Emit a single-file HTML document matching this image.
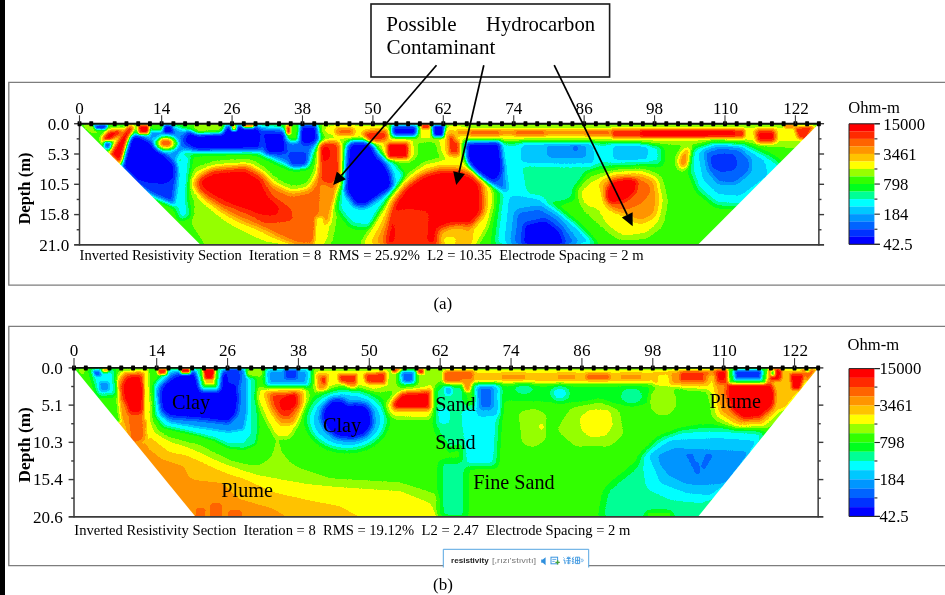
<!DOCTYPE html>
<html><head><meta charset="utf-8"><title>Inverted Resistivity Sections</title>
<style>html,body{margin:0;padding:0;background:#fff}body{width:945px;height:595px;position:relative;overflow:hidden;font-family:"Liberation Serif",serif}</style>
</head><body>
<svg width="945" height="595" viewBox="0 0 945 595" style="position:absolute;left:0;top:0;font-family:'Liberation Serif',serif">
<defs><filter id="b0_9" filterUnits="userSpaceOnUse" x="40" y="100" width="820" height="440" color-interpolation-filters="sRGB"><feGaussianBlur stdDeviation="0.9"/></filter>
<filter id="b1" filterUnits="userSpaceOnUse" x="40" y="100" width="820" height="440" color-interpolation-filters="sRGB"><feGaussianBlur stdDeviation="1"/></filter>
<filter id="b1_1" filterUnits="userSpaceOnUse" x="40" y="100" width="820" height="440" color-interpolation-filters="sRGB"><feGaussianBlur stdDeviation="1.1"/></filter>
<filter id="b1_2" filterUnits="userSpaceOnUse" x="40" y="100" width="820" height="440" color-interpolation-filters="sRGB"><feGaussianBlur stdDeviation="1.2"/></filter>
<filter id="b1_3" filterUnits="userSpaceOnUse" x="40" y="100" width="820" height="440" color-interpolation-filters="sRGB"><feGaussianBlur stdDeviation="1.3"/></filter>
<filter id="b1_4" filterUnits="userSpaceOnUse" x="40" y="100" width="820" height="440" color-interpolation-filters="sRGB"><feGaussianBlur stdDeviation="1.4"/></filter>
<filter id="b1_5" filterUnits="userSpaceOnUse" x="40" y="100" width="820" height="440" color-interpolation-filters="sRGB"><feGaussianBlur stdDeviation="1.5"/></filter>
<filter id="b1_6" filterUnits="userSpaceOnUse" x="40" y="100" width="820" height="440" color-interpolation-filters="sRGB"><feGaussianBlur stdDeviation="1.6"/></filter>
<filter id="b1_8" filterUnits="userSpaceOnUse" x="40" y="100" width="820" height="440" color-interpolation-filters="sRGB"><feGaussianBlur stdDeviation="1.8"/></filter>
<filter id="b2" filterUnits="userSpaceOnUse" x="40" y="100" width="820" height="440" color-interpolation-filters="sRGB"><feGaussianBlur stdDeviation="2"/></filter>
<filter id="b2_2" filterUnits="userSpaceOnUse" x="40" y="100" width="820" height="440" color-interpolation-filters="sRGB"><feGaussianBlur stdDeviation="2.2"/></filter>
<filter id="b2_3" filterUnits="userSpaceOnUse" x="40" y="100" width="820" height="440" color-interpolation-filters="sRGB"><feGaussianBlur stdDeviation="2.3"/></filter>
<filter id="b2_5" filterUnits="userSpaceOnUse" x="40" y="100" width="820" height="440" color-interpolation-filters="sRGB"><feGaussianBlur stdDeviation="2.5"/></filter>
<filter id="b2_6" filterUnits="userSpaceOnUse" x="40" y="100" width="820" height="440" color-interpolation-filters="sRGB"><feGaussianBlur stdDeviation="2.6"/></filter>
<filter id="b2_8" filterUnits="userSpaceOnUse" x="40" y="100" width="820" height="440" color-interpolation-filters="sRGB"><feGaussianBlur stdDeviation="2.8"/></filter>
<filter id="b3" filterUnits="userSpaceOnUse" x="40" y="100" width="820" height="440" color-interpolation-filters="sRGB"><feGaussianBlur stdDeviation="3"/></filter>
<filter id="b3_2" filterUnits="userSpaceOnUse" x="40" y="100" width="820" height="440" color-interpolation-filters="sRGB"><feGaussianBlur stdDeviation="3.2"/></filter>
<filter id="b3_5" filterUnits="userSpaceOnUse" x="40" y="100" width="820" height="440" color-interpolation-filters="sRGB"><feGaussianBlur stdDeviation="3.5"/></filter>
<filter id="b4" filterUnits="userSpaceOnUse" x="40" y="100" width="820" height="440" color-interpolation-filters="sRGB"><feGaussianBlur stdDeviation="4"/></filter>
<filter id="cm" filterUnits="userSpaceOnUse" x="0" y="0" width="945" height="595" color-interpolation-filters="sRGB">
<feComponentTransfer><feFuncR type="discrete" tableValues="0.0000 0.0000 0.0000 0.0000 0.0000 0.0000 0.0000 0.0000 0.1961 0.5882 1.0000 1.0000 1.0000 1.0000 1.0000 1.0000"/><feFuncG type="discrete" tableValues="0.0000 0.1961 0.3922 0.5882 0.7843 1.0000 1.0000 1.0000 1.0000 1.0000 1.0000 0.7647 0.5843 0.3922 0.1647 0.0000"/><feFuncB type="discrete" tableValues="1.0000 1.0000 1.0000 1.0000 1.0000 1.0000 0.5882 0.1176 0.0000 0.0000 0.0000 0.0000 0.0000 0.0000 0.0000 0.0000"/></feComponentTransfer>
<feGaussianBlur stdDeviation="0.6"/></filter>

<clipPath id="ct"><polygon points="79.5,123.7 818.868,123.7 697.668,244.9 200.7,244.9"/></clipPath>
<clipPath id="cb"><polygon points="74,367.9 818.156,367.9 698,516.8 195.5,516.8"/></clipPath>
<filter id="soft" filterUnits="userSpaceOnUse" x="0" y="0" width="945" height="595" color-interpolation-filters="sRGB"><feGaussianBlur stdDeviation="0.38"/></filter>
</defs>
<rect x="0" y="0" width="945" height="595" fill="#fff"/>
<rect x="0" y="0" width="5" height="595" fill="#000"/>
<path d="M946,82.3 H8.8 V285.2 H946" fill="none" stroke="#7d7d7d" stroke-width="1.3"/>
<path d="M946,326.3 H8.8 V565.6 H946" fill="none" stroke="#7d7d7d" stroke-width="1.3"/>
<g clip-path="url(#ct)"><g filter="url(#cm)"><rect x="60" y="110" width="780" height="150" fill="#878787"/>
<polygon points="196,200 212,215 228,229 250,240 270,250 208,250 190,222" fill="#979797" filter="url(#b3)"/>
<polygon points="185,183 195,170 215,163 250,161 262,168 276,181 292,189 308,186 316,172 319,140 341,138 343,176 337,205 329,246 268,246 250,238 228,227 212,215 196,200" fill="#a7a7a7" filter="url(#b4)"/>
<polygon points="138,128 160,127 178,127 183,150 177,162 160,147 150,138" fill="#383838" filter="url(#b2_5)"/>
<polygon points="121,165 126,136 140,134 150,138 160,147 170,155 178,163 182,175 182,190 176,206 150,195 136,185" fill="#181818" filter="url(#b2_5)"/>
<polygon points="176,128 196,135 222,134 227,126 256,126 284,128 296,142 299,127 317,126 321,140 313,150 309,164 296,168 282,163 268,156 256,151 225,151 195,152 178,151" fill="#282828" filter="url(#b3)"/>
<polygon points="180,152 191,155 189,172 187,200 190,216 180,220 174,203" fill="#585858" filter="url(#b2_5)"/>
<polygon points="194,183 202,173 216,168 248,166 262,174 274,186 292,194 310,190 320,172 322,144 338,142 339,176 333,200 323,222 315,246 298,246 280,238 260,228 240,220 222,210 204,197" fill="#d7d7d7" filter="url(#b3)"/>
<polygon points="321,178 332,178 329,222 318,224" fill="#c7c7c7" filter="url(#b2_5)"/>
<polygon points="126,139 137,136 146,141 157,149 166,158 173,165 174,178 165,184 150,183 138,180 123,167" fill="#080808" filter="url(#b2_3)"/>
<polygon points="186,131 196,133 222,133 226,126 256,126 262,132 260,149 225,150 196,150 184,143" fill="#080808" filter="url(#b2_3)"/>
<polygon points="262,132 285,132 286,153 266,154" fill="#080808" filter="url(#b2)"/>
<polygon points="297,125 317,125 317,141 306,146 299,140" fill="#080808" filter="url(#b2)"/>
<polygon points="288,152 307,152 307,166 290,166" fill="#181818" filter="url(#b2)"/>
<polygon points="163,125 172,125 174,134 163,133" fill="#080808" filter="url(#b1_5)"/>
<ellipse cx="166.5" cy="143.5" rx="11.5" ry="7.5" fill="#979797" filter="url(#b2)"/>
<ellipse cx="166" cy="143" rx="6.5" ry="4.3" transform="rotate(5 166 143)" fill="#d7d7d7" filter="url(#b1_5)"/>
<polygon points="283,124 300,124 298,141 288,141" fill="#878787" filter="url(#b2)"/>
<polygon points="286,125.5 290.5,125.5 290.5,134.5 286.5,134" fill="#e7e7e7" filter="url(#b1_2)"/>
<polygon points="192,124 223,124 222,132 196,133" fill="#979797" filter="url(#b2)"/>
<polygon points="231.5,124.5 236.5,124.5 236.5,130.5 231.5,130.5" fill="#b7b7b7" filter="url(#b1_2)"/>
<polygon points="243,124 254,124 254,127.5 243,127.5" fill="#d7d7d7" filter="url(#b1)"/>
<polygon points="150,124 163,124 162,131 152,131" fill="#878787" filter="url(#b1_5)"/>
<polygon points="197,182 212,171 245,168 262,177 272,195 292,209 293,221 265,224 245,213 228,207 210,198 199,190" fill="#e7e7e7" filter="url(#b2_5)"/>
<polygon points="200.3,180.2 213.9,173.4 244.3,170.8 259.6,180.2 268,197 279.9,207.3 276.5,215.7 261.3,214.9 247.7,209.8 230.8,203.9 213.9,195.4 203.7,188.6" fill="#f7f7f7" filter="url(#b2)"/>
<polygon points="320,143 338.6,142 340,172 332,186 320,182" fill="#e7e7e7" filter="url(#b2_5)"/>
<polygon points="321,147 330,146 330,160 322,162" fill="#f7f7f7" filter="url(#b2)"/>
<polygon points="315.5,217 324,217 324,246 314.5,246" fill="#a7a7a7" filter="url(#b1_8)"/>
<polygon points="80,124 96,124 100,134 90,133" fill="#979797" filter="url(#b2)"/>
<polygon points="93,124.5 108,124.5 106,129.5 96,129.5" fill="#181818" filter="url(#b1_3)"/>
<polygon points="101,139.5 108,130.5 121.5,129 123,133.5 112,140 105,144" fill="#f7f7f7" filter="url(#b2_2)"/>
<polygon points="104,141 112,142 110,150 104,148" fill="#282828" filter="url(#b1_5)"/>
<polygon points="109,155 116,142.8 123,131.8 129.5,125 134.5,126 129,138.7 125,151 121,165" fill="#f7f7f7" filter="url(#b2_2)"/>
<polygon points="137.7,124.5 149.4,124.5 149.4,134 138.5,134" fill="#f7f7f7" filter="url(#b1_4)"/>
<polygon points="322,124 462,124 462,142 445,160 430,146 412,160 386,160 380,146 340,139 322,134" fill="#a7a7a7" filter="url(#b3)"/>
<polygon points="414,141 438,140 438,165 420,166" fill="#878787" filter="url(#b3)"/>
<polygon points="341,190 394,190 387,212 372,228 352,226 337,208" fill="#585858" filter="url(#b3_2)"/>
<polygon points="374,150 392,160 404,174 402,190 394,200 384,200" fill="#585858" filter="url(#b2_2)"/>
<polygon points="346.5,146 351,141 370,140.5 374,146 378.5,156 385.5,162.5 391.5,173 393.5,186 389,191 378,198.5 365,207 355,206 344,191 345,165" fill="#080808" filter="url(#b2_6)"/>
<polygon points="335,128 354,128 354,135 336,135" fill="#d7d7d7" filter="url(#b2)"/>
<polygon points="362,132 378,129.5 388,131 387,141 368,142" fill="#e7e7e7" filter="url(#b2)"/>
<polygon points="391,125 418,125 417,136.6 392,136.6" fill="#080808" filter="url(#b2)"/>
<polygon points="421.6,124.5 430,124.5 430,128.5 421.6,128.5" fill="#f7f7f7" filter="url(#b1_2)"/>
<polygon points="431.7,125 445.3,125 444,137 433,137" fill="#080808" filter="url(#b1_8)"/>
<polygon points="386,142.5 409,142.5 409,159 387,159" fill="#d7d7d7" filter="url(#b2_5)"/>
<polygon points="388,144 407.5,144 407.5,157.5 388.5,157.5" fill="#f7f7f7" filter="url(#b1_8)"/>
<polygon points="446,132 460,130 461,160 447,158" fill="#c7c7c7" filter="url(#b2_5)"/>
<polygon points="448.7,136.6 458.8,135 458.8,154 449.5,153" fill="#e7e7e7" filter="url(#b1_8)"/>
<polygon points="360,246 378,214 392,193 407,176 424,163 445,158 470,159 492,178 494,205 488,226 477,246" fill="#a7a7a7" filter="url(#b2_5)"/>
<polygon points="371,246 385,220 396,200 410,186 424,174 438,168.5 456,168 470,172 484,186 486,200 482,214 472,226 470,246" fill="#c7c7c7" filter="url(#b3_5)"/>
<polygon points="384,246 392.8,204 404.7,187 421.6,175 438.5,170 456,170 470,174 481.5,183 483,212 472,225 452,228 440,246" fill="#f7f7f7" filter="url(#b3)"/>
<polygon points="394.5,211 410,209 428.4,212 427,246 395,246" fill="#e7e7e7" filter="url(#b2_5)"/>
<polygon points="438.5,230 452,226 467.3,228 466,246 438,246" fill="#b7b7b7" filter="url(#b3)"/>
<polygon points="444,237 456,237 455,246 444,246" fill="#a7a7a7" filter="url(#b2)"/>
<polygon points="500,142 660,142 662,164 600,166 580,172 565,200 540,200 524,246 494,246 500,200 503,170" fill="#585858" filter="url(#b3_5)"/>
<polygon points="522,164 585,166 578,198 545,200 528,200" fill="#686868" filter="url(#b3_5)"/>
<polygon points="640,136 824,136 800,149 760,146 700,146 640,144" fill="#979797" filter="url(#b2_5)"/>
<polygon points="455,126.5 822,126.5 822,141 455,141" fill="#a7a7a7" filter="url(#b2_2)"/>
<polygon points="457,129.8 745,129.8 745,135.6 457,135.6" fill="#c7c7c7" filter="url(#b1_6)"/>
<polygon points="470,130.5 500,130.5 500,134.8 470,134.8" fill="#d7d7d7" filter="url(#b1_5)"/>
<polygon points="515,130.5 545,130.5 545,134.8 515,134.8" fill="#d7d7d7" filter="url(#b1_5)"/>
<polygon points="586,130.5 610,130.5 610,135 586,135" fill="#d7d7d7" filter="url(#b1_5)"/>
<polygon points="612,129.5 744,129.5 744,137.8 612,137.8" fill="#e7e7e7" filter="url(#b1_8)"/>
<polygon points="640,131 735,131 735,136 640,136" fill="#f7f7f7" filter="url(#b1_6)"/>
<polygon points="755.6,130 775.6,130 775.6,142 757,142.4" fill="#f7f7f7" filter="url(#b2)"/>
<polygon points="784,124.5 794,124.5 794,128 784,128" fill="#d7d7d7" filter="url(#b1_2)"/>
<polygon points="794,127 814,126 806,140 798,138" fill="#e7e7e7" filter="url(#b1_8)"/>
<polygon points="465,142 501,142 505,168 507,192 496,188 483,179 468,164" fill="#282828" filter="url(#b2_5)"/>
<polygon points="466.5,143 499.5,142.5 502.5,169 499,178 493,182 477.5,172 467.5,161" fill="#080808" filter="url(#b2)"/>
<polygon points="521,143.4 593.6,143.4 594,163.7 560,164.5 521,163" fill="#484848" filter="url(#b2_5)"/>
<polygon points="546,145 586.8,145 586,157.8 548,157.8" fill="#383838" filter="url(#b2)"/>
<polygon points="572,146 579,146 578,151 573,151" fill="#282828" filter="url(#b1_2)"/>
<polygon points="612,145 649,145 647,160 613,160" fill="#484848" filter="url(#b2_5)"/>
<polygon points="509,195.4 537.7,197 554.7,207.2 578.4,225.9 597,246 504,246" fill="#484848" filter="url(#b3)"/>
<polygon points="516,211 540,207 560,220 580,246 512,246" fill="#282828" filter="url(#b3)"/>
<polygon points="524,224 545,219 560,230 566,246 522,246" fill="#080808" filter="url(#b2_5)"/>
<polygon points="574,190 590,176 615,170 645,168 662,176 668,200 664,226 648,239 618,240 600,226 584,212" fill="#979797" filter="url(#b3_5)"/>
<polygon points="580,192 592,181 612,174 640,172 657,178 663,200 659,222 645,234 622,236 606,224 598,209 584,205" fill="#a7a7a7" filter="url(#b3)"/>
<polygon points="600,182 615,175 640,174 655,180 658,200 655,216 640,223 622,214 606,206" fill="#c7c7c7" filter="url(#b3)"/>
<ellipse cx="630" cy="195" rx="22" ry="13" transform="rotate(-25 630 195)" fill="#d7d7d7" filter="url(#b2_5)"/>
<polygon points="605.5,190 612,180 628,177.5 638,180 636,192 626,201 612,204 606,200" fill="#f7f7f7" filter="url(#b2)"/>
<ellipse cx="685.5" cy="158" rx="8.8" ry="13.2" transform="rotate(25 685.5 158)" fill="#a7a7a7" filter="url(#b2)"/>
<ellipse cx="686" cy="158" rx="5.2" ry="9.4" transform="rotate(25 686 158)" fill="#c7c7c7" filter="url(#b1_5)"/>
<polygon points="691,150 712,142.5 745,144 773,158 790,172 745,207 716,205 698,190 690,170" fill="#585858" filter="url(#b3)"/>
<polygon points="697.8,152 714,145 742,147 764.4,160 768,175 740,196 718,194 703,180" fill="#484848" filter="url(#b2_5)"/>
<polygon points="704.4,152 720,147 740,149 751,160 750,172 735,184 718,183 708,170" fill="#282828" filter="url(#b2_5)"/>
<polygon points="710,156 722,153.6 734,154 737.8,162 735,170 722,172.4 712,168" fill="#181818" filter="url(#b2)"/>
</g></g>
<g clip-path="url(#cb)"><g filter="url(#cm)"><rect x="60" y="355" width="780" height="175" fill="#878787"/>
<polygon points="150.4,398 150.4,414.8 157.8,429.6 169.6,437 184.4,440.7 199.3,444.4 214,451.9 228.9,459.3 243.7,463.7 258.5,465.2 268.9,459.3 273.3,451.9 277,434 282,451.9 290,462 300,468 330,478 400,482 440,495 452,520 190,520 118,425" fill="#979797" filter="url(#b2)"/>
<polygon points="148.9,398 148.9,419.3 154.8,432.6 169.6,441.5 184.4,446 199.3,451.9 214,459.3 228.9,465.2 243.7,470.5 258.5,475 280,479 308,484 340,487 400,491 430,503 441,520 190,520 118,425" fill="#a7a7a7" filter="url(#b1_8)"/>
<polygon points="144.4,405 144.4,422 151.9,438.5 169.6,451.9 184.4,454.8 199.3,460.7 214,468 228.9,474 243.7,478.5 273,492 308,500 340,506 365,520 190,520 118,425" fill="#b7b7b7" filter="url(#b1_8)"/>
<polygon points="140,415 140,429.6 148.9,448.9 162.2,459.3 177,463.7 184.4,466.7 188.9,477 196.3,480 222,483 240,499 273,508.5 292,520 185,520 116,425" fill="#c7c7c7" filter="url(#b1_8)"/>
<polygon points="196,508 206,508 205,518 195,518" fill="#d7d7d7" filter="url(#b1_5)"/>
<polygon points="210,503 222,503 222,518 210,518" fill="#d7d7d7" filter="url(#b1_5)"/>
<polygon points="228,510 242,510 242,518 228,518" fill="#d7d7d7" filter="url(#b1_5)"/>
<polygon points="606,490 640,462 660,440 700,428 760,430 760,520 600,520" fill="#686868" filter="url(#b4)"/>
<polygon points="440,461 466,461 466,518 440,518" fill="#686868" filter="url(#b3_5)"/>
<polygon points="312,368 445,368 445,384 400,390 360,396 312,392" fill="#979797" filter="url(#b3)"/>
<polygon points="314,370 390,370 388,386 360,394 316,392" fill="#a7a7a7" filter="url(#b2_5)"/>
<polygon points="114.5,377 122,370 147.5,369.5 149.8,400 149,440 128,446 118.5,412" fill="#a7a7a7" filter="url(#b2)"/>
<polygon points="117.5,381 124,372.5 145,372 147,400 146,440 131,444 121.5,418" fill="#c7c7c7" filter="url(#b1_8)"/>
<polygon points="127,408 142.5,408 143,440 132,444" fill="#d7d7d7" filter="url(#b2)"/>
<polygon points="120.8,386 126.5,375.5 141.5,374.5 144.3,390 142.8,413 130,414 123,399" fill="#f7f7f7" filter="url(#b2)"/>
<polygon points="144.5,368 148,368 148,420 144.5,420" fill="#a7a7a7" filter="url(#b1_2)"/>
<polygon points="153.5,385 154.8,414.8 162.2,426.7 177,430.4 199.3,435.6 214,440 228.9,447.4 243.7,448.9 255.6,444.4 258.5,429.6 257,400 255,369 165,369" fill="#686868" filter="url(#b1_8)"/>
<polygon points="154.5,386 156.3,414.8 165.2,425.2 184.4,429.6 214,437 228.9,443 243.7,443 251,434 251.1,400 251,369 168,370" fill="#585858" filter="url(#b1_6)"/>
<polygon points="157,388 160.7,414.8 169.6,422.2 199.3,427.4 228.9,431.9 243.7,429.6 246.7,414.8 247,369 172,372" fill="#383838" filter="url(#b1_6)"/>
<polygon points="159,396 161.5,386 170.5,378 178,374 197,372 200,378 204,386 213,386 217,380 222,372 237,371 239,400 237,414.8 229,423 199.3,419.5 169.6,417.3 161.5,410.4" fill="#080808" filter="url(#b2_2)"/>
<polygon points="196,368 221,368 219,390 201,390" fill="#787878" filter="url(#b2_2)"/>
<polygon points="157.5,368.3 167,368.3 166.5,374.5 158,374.5" fill="#e7e7e7" filter="url(#b1_2)"/>
<polygon points="180.5,368.3 190.5,368.3 190,373.5 181,373.5" fill="#f7f7f7" filter="url(#b1_2)"/>
<polygon points="202,368 216,368 214.5,385 204.5,385" fill="#b7b7b7" filter="url(#b1_6)"/>
<polygon points="203.5,368.3 214.5,368.3 213.5,379 204.5,379" fill="#f7f7f7" filter="url(#b1_3)"/>
<polygon points="227,369 241,369 240,384 228,384" fill="#181818" filter="url(#b2)"/>
<polygon points="90,369 114,369 116,395 98,396" fill="#585858" filter="url(#b2_5)"/>
<polygon points="93,370.5 100,370.5 101,376 95,376" fill="#282828" filter="url(#b1_3)"/>
<polygon points="99,382 109,382 109,391 100,391" fill="#383838" filter="url(#b1_5)"/>
<polygon points="102,368.5 109,368.5 108.5,372 102.5,372" fill="#c7c7c7" filter="url(#b1)"/>
<polygon points="76,369 86,369 83,376" fill="#979797" filter="url(#b1_5)"/>
<polygon points="264,369 312,369 310,388 266,388" fill="#585858" filter="url(#b2_5)"/>
<polygon points="267.4,370 308,370 306,384 269,384" fill="#383838" filter="url(#b2)"/>
<polygon points="284,369.5 298,369.5 297,379 285,379" fill="#181818" filter="url(#b1_5)"/>
<polygon points="245,368.5 264,368.5 262,377 247,377" fill="#979797" filter="url(#b1_5)"/>
<polygon points="316.5,373.9 328.4,373.9 327,391 318,390" fill="#c7c7c7" filter="url(#b1_8)"/>
<polygon points="321,377 326,377 326,384 321.5,384" fill="#e7e7e7" filter="url(#b1_2)"/>
<polygon points="338.5,374 357,374 356,394 348,394 346,384 339,382" fill="#e7e7e7" filter="url(#b1_8)"/>
<polygon points="364,374 386,372 385,384 366,383" fill="#e7e7e7" filter="url(#b1_8)"/>
<polygon points="392,368.5 402,368.5 401.5,372.5 392.5,372.5" fill="#f7f7f7" filter="url(#b1)"/>
<polygon points="398,370 417,370 416,385 399,385" fill="#585858" filter="url(#b2)"/>
<polygon points="402,372 414,372 413,382 403,382" fill="#282828" filter="url(#b1_6)"/>
<polygon points="417.4,368.5 424,368.5 424,374 417.4,374" fill="#e7e7e7" filter="url(#b1_1)"/>
<polygon points="258,388 307,388 309,400 300,420 290,438 276,438 266,420 257,400" fill="#a7a7a7" filter="url(#b2_5)"/>
<polygon points="264,392 303,391 303,404 294,424 280,425 270,410" fill="#c7c7c7" filter="url(#b2_2)"/>
<polygon points="270,394 299,393 299,406 290,418 280,417 273,406" fill="#e7e7e7" filter="url(#b2)"/>
<polygon points="279,400 288,395 296,394 296,405 289,411 281,410" fill="#f7f7f7" filter="url(#b1_8)"/>
<ellipse cx="347" cy="419" rx="41" ry="32" fill="#686868" filter="url(#b3)"/>
<ellipse cx="347" cy="420" rx="36" ry="27" fill="#484848" filter="url(#b3)"/>
<polygon points="321.6,410 326,404 332,398.4 343.6,398.4 348,404 353.8,402 367,404 372.4,412 373,426 366,436 352,440 336,438 326,430 321,420" fill="#080808" filter="url(#b2_8)"/>
<polygon points="386,404 396,392 430,384 438,380 436,410 430,419 394,418 387,412" fill="#a7a7a7" filter="url(#b2_5)"/>
<polygon points="392,403 402,392.5 429.3,391 432,386 431,409.5 394,409.5" fill="#f7f7f7" filter="url(#b2)"/>
<polygon points="434,386 464,384 466,440 450,452 436,430" fill="#686868" filter="url(#b3_5)"/>
<polygon points="437,408 450,408 450,424 438,424" fill="#585858" filter="url(#b2_5)"/>
<polygon points="444,386 452,386 452,395 445,395" fill="#484848" filter="url(#b1_8)"/>
<polygon points="444,369 765,369 765,384.5 444,384.5" fill="#a7a7a7" filter="url(#b2)"/>
<polygon points="444,372.3 722,372.3 722,381.3 444,381.3" fill="#b7b7b7" filter="url(#b1_6)"/>
<polygon points="501,374.5 526,374.5 526,379.5 501,379.5" fill="#c7c7c7" filter="url(#b1_5)"/>
<polygon points="557,374.5 576,374.5 576,379.5 557,379.5" fill="#c7c7c7" filter="url(#b1_5)"/>
<polygon points="586,374 610,374 610,380 586,380" fill="#d7d7d7" filter="url(#b1_6)"/>
<polygon points="620,374.5 642,374.5 642,379.5 620,379.5" fill="#c7c7c7" filter="url(#b1_5)"/>
<polygon points="498,386 650,386 650,404 600,404 560,402 498,400" fill="#787878" filter="url(#b2_5)"/>
<polygon points="444,371 474,371 473,382 444,382" fill="#d7d7d7" filter="url(#b1_8)"/>
<polygon points="461.4,379 473.3,379 470,392 465,392" fill="#c7c7c7" filter="url(#b1_8)"/>
<polygon points="655,373 722,373 722,383 655,383" fill="#e7e7e7" filter="url(#b1_8)"/>
<polygon points="460,408 500,400 496,466 464,466" fill="#585858" filter="url(#b3_2)"/>
<polygon points="474,384.5 500.5,384.5 499,416 477,417" fill="#484848" filter="url(#b2_5)"/>
<polygon points="478.5,387 493,387 492,409 480,409" fill="#282828" filter="url(#b2)"/>
<ellipse cx="560" cy="393.5" rx="8.5" ry="7" fill="#585858" filter="url(#b2_5)"/>
<ellipse cx="524" cy="389" rx="10" ry="5" fill="#686868" filter="url(#b2_5)"/>
<ellipse cx="631.5" cy="396" rx="11" ry="8" fill="#686868" filter="url(#b2_5)"/>
<polygon points="518,412 534,408 547,414 546,440 534,448 522,444" fill="#979797" filter="url(#b2_5)"/>
<ellipse cx="541.5" cy="426.5" rx="2.6" ry="3.6" fill="#a7a7a7" filter="url(#b0_9)"/>
<polygon points="556,430 570,408 600,400 620,410 624,435 610,447 575,447" fill="#979797" filter="url(#b3)"/>
<polygon points="579,418 590,409 610,410 613.5,425 606,436 590,438 581,430" fill="#a7a7a7" filter="url(#b2)"/>
<ellipse cx="663" cy="401" rx="14" ry="15" fill="#979797" filter="url(#b2_5)"/>
<polygon points="655,372 732,372 732,393 700,390 655,386" fill="#a7a7a7" filter="url(#b2_5)"/>
<polygon points="670,372 732,372 732,387 670,384" fill="#c7c7c7" filter="url(#b2)"/>
<polygon points="680,371.5 728,371.5 728,381.5 680,381.5" fill="#e7e7e7" filter="url(#b1_8)"/>
<polygon points="706,374 788,372 784,410 766,428 736,430 714,418" fill="#a7a7a7" filter="url(#b3)"/>
<polygon points="714,380 780,378 778,408 762,423 738,424 720,412" fill="#c7c7c7" filter="url(#b2_5)"/>
<polygon points="768,369 818,369 795,398 784,410 774,408" fill="#b7b7b7" filter="url(#b2_2)"/>
<polygon points="715.5,370 728,370 726,393.7 731,410.6 743,419.6 760,418 772.5,407.4 777.5,393.7 771,383 730,382.5 716,383" fill="#f7f7f7" filter="url(#b2_2)"/>
<polygon points="728.4,368.5 766.5,368.5 766,383.4 729,383.4" fill="#787878" filter="url(#b1_6)"/>
<polygon points="734,370 762,370 761,379.5 735,379.5" fill="#181818" filter="url(#b1_5)"/>
<polygon points="769,368.5 781.6,368.5 781,381 770,381" fill="#f7f7f7" filter="url(#b1_6)"/>
<polygon points="770.5,369.5 775,369.5 775,376 770.5,376" fill="#878787" filter="url(#b1)"/>
<polygon points="776,381 790,384 786,404 776,400" fill="#b7b7b7" filter="url(#b2)"/>
<polygon points="790,373.7 804.8,373.7 800,390 792,390" fill="#f7f7f7" filter="url(#b1_6)"/>
<polygon points="801,369 817,369 807,381" fill="#d7d7d7" filter="url(#b1_5)"/>
<polygon points="805,368.5 810,368.5 809,372 806,372" fill="#878787" filter="url(#b0_9)"/>
<polygon points="641.3,457 660,440 682.5,431 720,430 765,433 722,492 702.6,503.4 670,500 646.3,489.3" fill="#585858" filter="url(#b3)"/>
<polygon points="648.3,455 670.4,440 720,438 758,441 725,484 710.6,495.4 686,493 660.4,483.3" fill="#484848" filter="url(#b2_5)"/>
<polygon points="657.4,455.2 674.4,448 742.8,451 750,452 726.7,483.3 702.6,485.3 686.5,484.3 668.4,475.3 660.4,465.2" fill="#383838" filter="url(#b2)"/>
<polygon points="685.5,454 693,453.5 697,468 693,468" fill="#282828" filter="url(#b1)"/>
<polygon points="706,453.5 713.6,455 704,470 701,466" fill="#282828" filter="url(#b1)"/>
<polygon points="693,463 699,462 700,474 695,474" fill="#282828" filter="url(#b1)"/>
<polygon points="646,511 672,511 672,518 646,518" fill="#878787" filter="url(#b2)"/>
</g></g>
<g filter="url(#soft)">
<line x1="79.5" y1="123.7" x2="79.5" y2="245.6" stroke="#3a3a3a" stroke-width="1.5"/>
<line x1="74.1" y1="244.9" x2="824.068" y2="244.9" stroke="#3a3a3a" stroke-width="1.7"/>
<line x1="818.868" y1="123.7" x2="818.868" y2="245.6" stroke="#3a3a3a" stroke-width="1.5"/>
<line x1="74.1" y1="123.7" x2="79.5" y2="123.7" stroke="#3a3a3a" stroke-width="1.4"/>
<line x1="818.868" y1="123.7" x2="824.068" y2="123.7" stroke="#3a3a3a" stroke-width="1.4"/>
<line x1="76.7" y1="138.85" x2="79.5" y2="138.85" stroke="#3a3a3a" stroke-width="1.4"/>
<line x1="818.868" y1="138.85" x2="821.468" y2="138.85" stroke="#3a3a3a" stroke-width="1.4"/>
<line x1="74.1" y1="154" x2="79.5" y2="154" stroke="#3a3a3a" stroke-width="1.4"/>
<line x1="818.868" y1="154" x2="824.068" y2="154" stroke="#3a3a3a" stroke-width="1.4"/>
<line x1="76.7" y1="169.15" x2="79.5" y2="169.15" stroke="#3a3a3a" stroke-width="1.4"/>
<line x1="818.868" y1="169.15" x2="821.468" y2="169.15" stroke="#3a3a3a" stroke-width="1.4"/>
<line x1="74.1" y1="184.3" x2="79.5" y2="184.3" stroke="#3a3a3a" stroke-width="1.4"/>
<line x1="818.868" y1="184.3" x2="824.068" y2="184.3" stroke="#3a3a3a" stroke-width="1.4"/>
<line x1="76.7" y1="199.45" x2="79.5" y2="199.45" stroke="#3a3a3a" stroke-width="1.4"/>
<line x1="818.868" y1="199.45" x2="821.468" y2="199.45" stroke="#3a3a3a" stroke-width="1.4"/>
<line x1="74.1" y1="214.6" x2="79.5" y2="214.6" stroke="#3a3a3a" stroke-width="1.4"/>
<line x1="818.868" y1="214.6" x2="824.068" y2="214.6" stroke="#3a3a3a" stroke-width="1.4"/>
<line x1="76.7" y1="229.75" x2="79.5" y2="229.75" stroke="#3a3a3a" stroke-width="1.4"/>
<line x1="818.868" y1="229.75" x2="821.468" y2="229.75" stroke="#3a3a3a" stroke-width="1.4"/>
<line x1="78.5" y1="123.7" x2="819.868" y2="123.7" stroke="#111" stroke-width="1.9"/>
<text x="69.2" y="129.5" font-size="17.1" text-anchor="end" fill="#000">0.0</text>
<text x="69.2" y="159.8" font-size="17.1" text-anchor="end" fill="#000">5.3</text>
<text x="69.2" y="190.1" font-size="17.1" text-anchor="end" fill="#000">10.5</text>
<text x="69.2" y="220.4" font-size="17.1" text-anchor="end" fill="#000">15.8</text>
<text x="69.2" y="250.7" font-size="17.1" text-anchor="end" fill="#000">21.0</text>
<rect x="77.55" y="121.2" width="3.9" height="5" rx="0.6" fill="#000"/>
<rect x="89.286" y="121.2" width="3.9" height="5" rx="0.6" fill="#000"/>
<rect x="112.758" y="121.2" width="3.9" height="5" rx="0.6" fill="#000"/>
<rect x="124.494" y="121.2" width="3.9" height="5" rx="0.6" fill="#000"/>
<rect x="136.23" y="121.2" width="3.9" height="5" rx="0.6" fill="#000"/>
<rect x="147.966" y="121.2" width="3.9" height="5" rx="0.6" fill="#000"/>
<rect x="159.702" y="121.2" width="3.9" height="5" rx="0.6" fill="#000"/>
<rect x="171.438" y="121.2" width="3.9" height="5" rx="0.6" fill="#000"/>
<rect x="183.174" y="121.2" width="3.9" height="5" rx="0.6" fill="#000"/>
<rect x="194.91" y="121.2" width="3.9" height="5" rx="0.6" fill="#000"/>
<rect x="206.646" y="121.2" width="3.9" height="5" rx="0.6" fill="#000"/>
<rect x="218.382" y="121.2" width="3.9" height="5" rx="0.6" fill="#000"/>
<rect x="230.118" y="121.2" width="3.9" height="5" rx="0.6" fill="#000"/>
<rect x="241.854" y="121.2" width="3.9" height="5" rx="0.6" fill="#000"/>
<rect x="253.59" y="121.2" width="3.9" height="5" rx="0.6" fill="#000"/>
<rect x="265.326" y="121.2" width="3.9" height="5" rx="0.6" fill="#000"/>
<rect x="277.062" y="121.2" width="3.9" height="5" rx="0.6" fill="#000"/>
<rect x="288.798" y="121.2" width="3.9" height="5" rx="0.6" fill="#000"/>
<rect x="300.534" y="121.2" width="3.9" height="5" rx="0.6" fill="#000"/>
<rect x="312.27" y="121.2" width="3.9" height="5" rx="0.6" fill="#000"/>
<rect x="324.006" y="121.2" width="3.9" height="5" rx="0.6" fill="#000"/>
<rect x="335.742" y="121.2" width="3.9" height="5" rx="0.6" fill="#000"/>
<rect x="347.478" y="121.2" width="3.9" height="5" rx="0.6" fill="#000"/>
<rect x="359.214" y="121.2" width="3.9" height="5" rx="0.6" fill="#000"/>
<rect x="370.95" y="121.2" width="3.9" height="5" rx="0.6" fill="#000"/>
<rect x="382.686" y="121.2" width="3.9" height="5" rx="0.6" fill="#000"/>
<rect x="394.422" y="121.2" width="3.9" height="5" rx="0.6" fill="#000"/>
<rect x="406.158" y="121.2" width="3.9" height="5" rx="0.6" fill="#000"/>
<rect x="417.894" y="121.2" width="3.9" height="5" rx="0.6" fill="#000"/>
<rect x="429.63" y="121.2" width="3.9" height="5" rx="0.6" fill="#000"/>
<rect x="441.366" y="121.2" width="3.9" height="5" rx="0.6" fill="#000"/>
<rect x="453.102" y="121.2" width="3.9" height="5" rx="0.6" fill="#000"/>
<rect x="464.838" y="121.2" width="3.9" height="5" rx="0.6" fill="#000"/>
<rect x="476.574" y="121.2" width="3.9" height="5" rx="0.6" fill="#000"/>
<rect x="488.31" y="121.2" width="3.9" height="5" rx="0.6" fill="#000"/>
<rect x="500.046" y="121.2" width="3.9" height="5" rx="0.6" fill="#000"/>
<rect x="511.782" y="121.2" width="3.9" height="5" rx="0.6" fill="#000"/>
<rect x="523.518" y="121.2" width="3.9" height="5" rx="0.6" fill="#000"/>
<rect x="535.254" y="121.2" width="3.9" height="5" rx="0.6" fill="#000"/>
<rect x="546.99" y="121.2" width="3.9" height="5" rx="0.6" fill="#000"/>
<rect x="558.726" y="121.2" width="3.9" height="5" rx="0.6" fill="#000"/>
<rect x="570.462" y="121.2" width="3.9" height="5" rx="0.6" fill="#000"/>
<rect x="582.198" y="121.2" width="3.9" height="5" rx="0.6" fill="#000"/>
<rect x="593.934" y="121.2" width="3.9" height="5" rx="0.6" fill="#000"/>
<rect x="605.67" y="121.2" width="3.9" height="5" rx="0.6" fill="#000"/>
<rect x="617.406" y="121.2" width="3.9" height="5" rx="0.6" fill="#000"/>
<rect x="629.142" y="121.2" width="3.9" height="5" rx="0.6" fill="#000"/>
<rect x="640.878" y="121.2" width="3.9" height="5" rx="0.6" fill="#000"/>
<rect x="652.614" y="121.2" width="3.9" height="5" rx="0.6" fill="#000"/>
<rect x="664.35" y="121.2" width="3.9" height="5" rx="0.6" fill="#000"/>
<rect x="676.086" y="121.2" width="3.9" height="5" rx="0.6" fill="#000"/>
<rect x="687.822" y="121.2" width="3.9" height="5" rx="0.6" fill="#000"/>
<rect x="699.558" y="121.2" width="3.9" height="5" rx="0.6" fill="#000"/>
<rect x="711.294" y="121.2" width="3.9" height="5" rx="0.6" fill="#000"/>
<rect x="723.03" y="121.2" width="3.9" height="5" rx="0.6" fill="#000"/>
<rect x="734.766" y="121.2" width="3.9" height="5" rx="0.6" fill="#000"/>
<rect x="746.502" y="121.2" width="3.9" height="5" rx="0.6" fill="#000"/>
<rect x="758.238" y="121.2" width="3.9" height="5" rx="0.6" fill="#000"/>
<rect x="769.974" y="121.2" width="3.9" height="5" rx="0.6" fill="#000"/>
<rect x="781.71" y="121.2" width="3.9" height="5" rx="0.6" fill="#000"/>
<rect x="793.446" y="121.2" width="3.9" height="5" rx="0.6" fill="#000"/>
<rect x="805.182" y="121.2" width="3.9" height="5" rx="0.6" fill="#000"/>
<rect x="816.918" y="121.2" width="3.9" height="5" rx="0.6" fill="#000"/>
<line x1="79.5" y1="115.3" x2="79.5" y2="123.7" stroke="#3a3a3a" stroke-width="1.1"/>
<text x="79.5" y="113.5" font-size="17.1" text-anchor="middle" fill="#000">0</text>
<line x1="161.652" y1="115.3" x2="161.652" y2="123.7" stroke="#3a3a3a" stroke-width="1.1"/>
<text x="161.652" y="113.5" font-size="17.1" text-anchor="middle" fill="#000">14</text>
<line x1="232.068" y1="115.3" x2="232.068" y2="123.7" stroke="#3a3a3a" stroke-width="1.1"/>
<text x="232.068" y="113.5" font-size="17.1" text-anchor="middle" fill="#000">26</text>
<line x1="302.484" y1="115.3" x2="302.484" y2="123.7" stroke="#3a3a3a" stroke-width="1.1"/>
<text x="302.484" y="113.5" font-size="17.1" text-anchor="middle" fill="#000">38</text>
<line x1="372.9" y1="115.3" x2="372.9" y2="123.7" stroke="#3a3a3a" stroke-width="1.1"/>
<text x="372.9" y="113.5" font-size="17.1" text-anchor="middle" fill="#000">50</text>
<line x1="443.316" y1="115.3" x2="443.316" y2="123.7" stroke="#3a3a3a" stroke-width="1.1"/>
<text x="443.316" y="113.5" font-size="17.1" text-anchor="middle" fill="#000">62</text>
<line x1="513.732" y1="115.3" x2="513.732" y2="123.7" stroke="#3a3a3a" stroke-width="1.1"/>
<text x="513.732" y="113.5" font-size="17.1" text-anchor="middle" fill="#000">74</text>
<line x1="584.148" y1="115.3" x2="584.148" y2="123.7" stroke="#3a3a3a" stroke-width="1.1"/>
<text x="584.148" y="113.5" font-size="17.1" text-anchor="middle" fill="#000">86</text>
<line x1="654.564" y1="115.3" x2="654.564" y2="123.7" stroke="#3a3a3a" stroke-width="1.1"/>
<text x="654.564" y="113.5" font-size="17.1" text-anchor="middle" fill="#000">98</text>
<line x1="724.98" y1="115.3" x2="724.98" y2="123.7" stroke="#3a3a3a" stroke-width="1.1"/>
<text x="725.58" y="113.5" font-size="17.1" text-anchor="middle" fill="#000">110</text>
<line x1="795.396" y1="115.3" x2="795.396" y2="123.7" stroke="#3a3a3a" stroke-width="1.1"/>
<text x="795.996" y="113.5" font-size="17.1" text-anchor="middle" fill="#000">122</text>
<line x1="74" y1="367.9" x2="74" y2="517.5" stroke="#3a3a3a" stroke-width="1.5"/>
<line x1="68.6" y1="516.8" x2="823.356" y2="516.8" stroke="#3a3a3a" stroke-width="1.7"/>
<line x1="818.156" y1="367.9" x2="818.156" y2="517.5" stroke="#3a3a3a" stroke-width="1.5"/>
<line x1="68.6" y1="367.9" x2="74" y2="367.9" stroke="#3a3a3a" stroke-width="1.4"/>
<line x1="818.156" y1="367.9" x2="823.356" y2="367.9" stroke="#3a3a3a" stroke-width="1.4"/>
<line x1="71.2" y1="386.512" x2="74" y2="386.512" stroke="#3a3a3a" stroke-width="1.4"/>
<line x1="818.156" y1="386.512" x2="820.756" y2="386.512" stroke="#3a3a3a" stroke-width="1.4"/>
<line x1="68.6" y1="405.125" x2="74" y2="405.125" stroke="#3a3a3a" stroke-width="1.4"/>
<line x1="818.156" y1="405.125" x2="823.356" y2="405.125" stroke="#3a3a3a" stroke-width="1.4"/>
<line x1="71.2" y1="423.737" x2="74" y2="423.737" stroke="#3a3a3a" stroke-width="1.4"/>
<line x1="818.156" y1="423.737" x2="820.756" y2="423.737" stroke="#3a3a3a" stroke-width="1.4"/>
<line x1="68.6" y1="442.35" x2="74" y2="442.35" stroke="#3a3a3a" stroke-width="1.4"/>
<line x1="818.156" y1="442.35" x2="823.356" y2="442.35" stroke="#3a3a3a" stroke-width="1.4"/>
<line x1="71.2" y1="460.962" x2="74" y2="460.962" stroke="#3a3a3a" stroke-width="1.4"/>
<line x1="818.156" y1="460.962" x2="820.756" y2="460.962" stroke="#3a3a3a" stroke-width="1.4"/>
<line x1="68.6" y1="479.575" x2="74" y2="479.575" stroke="#3a3a3a" stroke-width="1.4"/>
<line x1="818.156" y1="479.575" x2="823.356" y2="479.575" stroke="#3a3a3a" stroke-width="1.4"/>
<line x1="71.2" y1="498.187" x2="74" y2="498.187" stroke="#3a3a3a" stroke-width="1.4"/>
<line x1="818.156" y1="498.187" x2="820.756" y2="498.187" stroke="#3a3a3a" stroke-width="1.4"/>
<line x1="73" y1="367.9" x2="819.156" y2="367.9" stroke="#111" stroke-width="1.9"/>
<text x="62.9" y="373.7" font-size="17.1" text-anchor="end" fill="#000">0.0</text>
<text x="62.9" y="410.925" font-size="17.1" text-anchor="end" fill="#000">5.1</text>
<text x="62.9" y="448.15" font-size="17.1" text-anchor="end" fill="#000">10.3</text>
<text x="62.9" y="485.375" font-size="17.1" text-anchor="end" fill="#000">15.4</text>
<text x="62.9" y="522.6" font-size="17.1" text-anchor="end" fill="#000">20.6</text>
<rect x="72.05" y="365.4" width="3.9" height="5" rx="0.6" fill="#000"/>
<rect x="83.862" y="365.4" width="3.9" height="5" rx="0.6" fill="#000"/>
<rect x="107.486" y="365.4" width="3.9" height="5" rx="0.6" fill="#000"/>
<rect x="119.298" y="365.4" width="3.9" height="5" rx="0.6" fill="#000"/>
<rect x="131.11" y="365.4" width="3.9" height="5" rx="0.6" fill="#000"/>
<rect x="142.922" y="365.4" width="3.9" height="5" rx="0.6" fill="#000"/>
<rect x="154.734" y="365.4" width="3.9" height="5" rx="0.6" fill="#000"/>
<rect x="166.546" y="365.4" width="3.9" height="5" rx="0.6" fill="#000"/>
<rect x="178.358" y="365.4" width="3.9" height="5" rx="0.6" fill="#000"/>
<rect x="190.17" y="365.4" width="3.9" height="5" rx="0.6" fill="#000"/>
<rect x="201.982" y="365.4" width="3.9" height="5" rx="0.6" fill="#000"/>
<rect x="213.794" y="365.4" width="3.9" height="5" rx="0.6" fill="#000"/>
<rect x="225.606" y="365.4" width="3.9" height="5" rx="0.6" fill="#000"/>
<rect x="237.418" y="365.4" width="3.9" height="5" rx="0.6" fill="#000"/>
<rect x="249.23" y="365.4" width="3.9" height="5" rx="0.6" fill="#000"/>
<rect x="261.042" y="365.4" width="3.9" height="5" rx="0.6" fill="#000"/>
<rect x="272.854" y="365.4" width="3.9" height="5" rx="0.6" fill="#000"/>
<rect x="284.666" y="365.4" width="3.9" height="5" rx="0.6" fill="#000"/>
<rect x="296.478" y="365.4" width="3.9" height="5" rx="0.6" fill="#000"/>
<rect x="308.29" y="365.4" width="3.9" height="5" rx="0.6" fill="#000"/>
<rect x="320.102" y="365.4" width="3.9" height="5" rx="0.6" fill="#000"/>
<rect x="331.914" y="365.4" width="3.9" height="5" rx="0.6" fill="#000"/>
<rect x="343.726" y="365.4" width="3.9" height="5" rx="0.6" fill="#000"/>
<rect x="355.538" y="365.4" width="3.9" height="5" rx="0.6" fill="#000"/>
<rect x="367.35" y="365.4" width="3.9" height="5" rx="0.6" fill="#000"/>
<rect x="379.162" y="365.4" width="3.9" height="5" rx="0.6" fill="#000"/>
<rect x="390.974" y="365.4" width="3.9" height="5" rx="0.6" fill="#000"/>
<rect x="402.786" y="365.4" width="3.9" height="5" rx="0.6" fill="#000"/>
<rect x="414.598" y="365.4" width="3.9" height="5" rx="0.6" fill="#000"/>
<rect x="426.41" y="365.4" width="3.9" height="5" rx="0.6" fill="#000"/>
<rect x="438.222" y="365.4" width="3.9" height="5" rx="0.6" fill="#000"/>
<rect x="450.034" y="365.4" width="3.9" height="5" rx="0.6" fill="#000"/>
<rect x="461.846" y="365.4" width="3.9" height="5" rx="0.6" fill="#000"/>
<rect x="473.658" y="365.4" width="3.9" height="5" rx="0.6" fill="#000"/>
<rect x="485.47" y="365.4" width="3.9" height="5" rx="0.6" fill="#000"/>
<rect x="497.282" y="365.4" width="3.9" height="5" rx="0.6" fill="#000"/>
<rect x="509.094" y="365.4" width="3.9" height="5" rx="0.6" fill="#000"/>
<rect x="520.906" y="365.4" width="3.9" height="5" rx="0.6" fill="#000"/>
<rect x="532.718" y="365.4" width="3.9" height="5" rx="0.6" fill="#000"/>
<rect x="544.53" y="365.4" width="3.9" height="5" rx="0.6" fill="#000"/>
<rect x="556.342" y="365.4" width="3.9" height="5" rx="0.6" fill="#000"/>
<rect x="568.154" y="365.4" width="3.9" height="5" rx="0.6" fill="#000"/>
<rect x="579.966" y="365.4" width="3.9" height="5" rx="0.6" fill="#000"/>
<rect x="591.778" y="365.4" width="3.9" height="5" rx="0.6" fill="#000"/>
<rect x="603.59" y="365.4" width="3.9" height="5" rx="0.6" fill="#000"/>
<rect x="615.402" y="365.4" width="3.9" height="5" rx="0.6" fill="#000"/>
<rect x="627.214" y="365.4" width="3.9" height="5" rx="0.6" fill="#000"/>
<rect x="639.026" y="365.4" width="3.9" height="5" rx="0.6" fill="#000"/>
<rect x="650.838" y="365.4" width="3.9" height="5" rx="0.6" fill="#000"/>
<rect x="662.65" y="365.4" width="3.9" height="5" rx="0.6" fill="#000"/>
<rect x="674.462" y="365.4" width="3.9" height="5" rx="0.6" fill="#000"/>
<rect x="686.274" y="365.4" width="3.9" height="5" rx="0.6" fill="#000"/>
<rect x="698.086" y="365.4" width="3.9" height="5" rx="0.6" fill="#000"/>
<rect x="709.898" y="365.4" width="3.9" height="5" rx="0.6" fill="#000"/>
<rect x="721.71" y="365.4" width="3.9" height="5" rx="0.6" fill="#000"/>
<rect x="733.522" y="365.4" width="3.9" height="5" rx="0.6" fill="#000"/>
<rect x="745.334" y="365.4" width="3.9" height="5" rx="0.6" fill="#000"/>
<rect x="757.146" y="365.4" width="3.9" height="5" rx="0.6" fill="#000"/>
<rect x="768.958" y="365.4" width="3.9" height="5" rx="0.6" fill="#000"/>
<rect x="780.77" y="365.4" width="3.9" height="5" rx="0.6" fill="#000"/>
<rect x="792.582" y="365.4" width="3.9" height="5" rx="0.6" fill="#000"/>
<rect x="804.394" y="365.4" width="3.9" height="5" rx="0.6" fill="#000"/>
<rect x="816.206" y="365.4" width="3.9" height="5" rx="0.6" fill="#000"/>
<line x1="74" y1="358.1" x2="74" y2="367.9" stroke="#3a3a3a" stroke-width="1.1"/>
<text x="74" y="355.6" font-size="17.1" text-anchor="middle" fill="#000">0</text>
<line x1="156.684" y1="358.1" x2="156.684" y2="367.9" stroke="#3a3a3a" stroke-width="1.1"/>
<text x="156.684" y="355.6" font-size="17.1" text-anchor="middle" fill="#000">14</text>
<line x1="227.556" y1="358.1" x2="227.556" y2="367.9" stroke="#3a3a3a" stroke-width="1.1"/>
<text x="227.556" y="355.6" font-size="17.1" text-anchor="middle" fill="#000">26</text>
<line x1="298.428" y1="358.1" x2="298.428" y2="367.9" stroke="#3a3a3a" stroke-width="1.1"/>
<text x="298.428" y="355.6" font-size="17.1" text-anchor="middle" fill="#000">38</text>
<line x1="369.3" y1="358.1" x2="369.3" y2="367.9" stroke="#3a3a3a" stroke-width="1.1"/>
<text x="369.3" y="355.6" font-size="17.1" text-anchor="middle" fill="#000">50</text>
<line x1="440.172" y1="358.1" x2="440.172" y2="367.9" stroke="#3a3a3a" stroke-width="1.1"/>
<text x="440.172" y="355.6" font-size="17.1" text-anchor="middle" fill="#000">62</text>
<line x1="511.044" y1="358.1" x2="511.044" y2="367.9" stroke="#3a3a3a" stroke-width="1.1"/>
<text x="511.044" y="355.6" font-size="17.1" text-anchor="middle" fill="#000">74</text>
<line x1="581.916" y1="358.1" x2="581.916" y2="367.9" stroke="#3a3a3a" stroke-width="1.1"/>
<text x="581.916" y="355.6" font-size="17.1" text-anchor="middle" fill="#000">86</text>
<line x1="652.788" y1="358.1" x2="652.788" y2="367.9" stroke="#3a3a3a" stroke-width="1.1"/>
<text x="652.788" y="355.6" font-size="17.1" text-anchor="middle" fill="#000">98</text>
<line x1="723.66" y1="358.1" x2="723.66" y2="367.9" stroke="#3a3a3a" stroke-width="1.1"/>
<text x="724.26" y="355.6" font-size="17.1" text-anchor="middle" fill="#000">110</text>
<line x1="794.532" y1="358.1" x2="794.532" y2="367.9" stroke="#3a3a3a" stroke-width="1.1"/>
<text x="795.132" y="355.6" font-size="17.1" text-anchor="middle" fill="#000">122</text>
<text transform="translate(30.2,188.6) rotate(-90)" font-size="16.5" font-weight="bold" text-anchor="middle">Depth (m)</text>
<text transform="translate(29.9,482.4) rotate(-90)" font-size="16.5" font-weight="bold" textLength="75.2" lengthAdjust="spacingAndGlyphs">Depth (m)</text>
<text x="79.6" y="259.9" font-size="14.6" xml:space="preserve" textLength="564" lengthAdjust="spacing">Inverted Resistivity Section  Iteration = 8  RMS = 25.92%  L2 = 10.35  Electrode Spacing = 2 m</text>
<text x="74.3" y="534.6" font-size="14.6" xml:space="preserve" textLength="556" lengthAdjust="spacing">Inverted Resistivity Section  Iteration = 8  RMS = 19.12%  L2 = 2.47  Electrode Spacing = 2 m</text>
<text x="433.4" y="308.9" font-size="17">(a)</text>
<text x="433" y="589.9" font-size="17">(b)</text>
<rect x="849" y="123.75" width="25.4" height="7.63125" fill="#FF0000"/>
<rect x="849" y="131.281" width="25.4" height="7.63125" fill="#FF2A00"/>
<rect x="849" y="138.812" width="25.4" height="7.63125" fill="#FF6400"/>
<rect x="849" y="146.344" width="25.4" height="7.63125" fill="#FF9500"/>
<rect x="849" y="153.875" width="25.4" height="7.63125" fill="#FFC300"/>
<rect x="849" y="161.406" width="25.4" height="7.63125" fill="#FFFF00"/>
<rect x="849" y="168.938" width="25.4" height="7.63125" fill="#96FF00"/>
<rect x="849" y="176.469" width="25.4" height="7.63125" fill="#32FF00"/>
<rect x="849" y="184" width="25.4" height="7.63125" fill="#00FF1E"/>
<rect x="849" y="191.531" width="25.4" height="7.63125" fill="#00FF96"/>
<rect x="849" y="199.062" width="25.4" height="7.63125" fill="#00FFFF"/>
<rect x="849" y="206.594" width="25.4" height="7.63125" fill="#00C8FF"/>
<rect x="849" y="214.125" width="25.4" height="7.63125" fill="#0096FF"/>
<rect x="849" y="221.656" width="25.4" height="7.63125" fill="#0064FF"/>
<rect x="849" y="229.188" width="25.4" height="7.63125" fill="#0032FF"/>
<rect x="849" y="236.719" width="25.4" height="7.63125" fill="#0000FF"/>
<path d="M874.4,123.8 H849 V244.3 H879.9" fill="none" stroke="#222" stroke-width="1"/>
<line x1="874.4" y1="123.8" x2="879.9" y2="123.8" stroke="#222" stroke-width="1"/>
<line x1="874.4" y1="123.8" x2="879.9" y2="123.8" stroke="#222" stroke-width="1.1"/>
<line x1="874.4" y1="138.863" x2="877.4" y2="138.863" stroke="#222" stroke-width="1.1"/>
<line x1="874.4" y1="153.925" x2="879.9" y2="153.925" stroke="#222" stroke-width="1.1"/>
<line x1="874.4" y1="168.988" x2="877.4" y2="168.988" stroke="#222" stroke-width="1.1"/>
<line x1="874.4" y1="184.05" x2="879.9" y2="184.05" stroke="#222" stroke-width="1.1"/>
<line x1="874.4" y1="199.113" x2="877.4" y2="199.113" stroke="#222" stroke-width="1.1"/>
<line x1="874.4" y1="214.175" x2="879.9" y2="214.175" stroke="#222" stroke-width="1.1"/>
<line x1="874.4" y1="229.238" x2="877.4" y2="229.238" stroke="#222" stroke-width="1.1"/>
<line x1="874.4" y1="244.3" x2="879.9" y2="244.3" stroke="#222" stroke-width="1.1"/>
<text x="883.3" y="129.5" font-size="16.7">15000</text>
<text x="883.3" y="159.625" font-size="16.7">3461</text>
<text x="883.3" y="189.75" font-size="16.7">798</text>
<text x="883.3" y="219.875" font-size="16.7">184</text>
<text x="883.3" y="250" font-size="16.7">42.5</text>
<rect x="849" y="368.55" width="25.4" height="9.3375" fill="#FF0000"/>
<rect x="849" y="377.788" width="25.4" height="9.3375" fill="#FF2A00"/>
<rect x="849" y="387.025" width="25.4" height="9.3375" fill="#FF6400"/>
<rect x="849" y="396.262" width="25.4" height="9.3375" fill="#FF9500"/>
<rect x="849" y="405.5" width="25.4" height="9.3375" fill="#FFC300"/>
<rect x="849" y="414.738" width="25.4" height="9.3375" fill="#FFFF00"/>
<rect x="849" y="423.975" width="25.4" height="9.3375" fill="#96FF00"/>
<rect x="849" y="433.212" width="25.4" height="9.3375" fill="#32FF00"/>
<rect x="849" y="442.45" width="25.4" height="9.3375" fill="#00FF1E"/>
<rect x="849" y="451.688" width="25.4" height="9.3375" fill="#00FF96"/>
<rect x="849" y="460.925" width="25.4" height="9.3375" fill="#00FFFF"/>
<rect x="849" y="470.162" width="25.4" height="9.3375" fill="#00C8FF"/>
<rect x="849" y="479.4" width="25.4" height="9.3375" fill="#0096FF"/>
<rect x="849" y="488.637" width="25.4" height="9.3375" fill="#0064FF"/>
<rect x="849" y="497.875" width="25.4" height="9.3375" fill="#0032FF"/>
<rect x="849" y="507.112" width="25.4" height="9.3375" fill="#0000FF"/>
<path d="M874.4,368.6 H849 V516.4 H879.9" fill="none" stroke="#222" stroke-width="1"/>
<line x1="874.4" y1="368.6" x2="879.9" y2="368.6" stroke="#222" stroke-width="1"/>
<line x1="874.4" y1="368.6" x2="879.9" y2="368.6" stroke="#222" stroke-width="1.1"/>
<line x1="874.4" y1="387.075" x2="877.4" y2="387.075" stroke="#222" stroke-width="1.1"/>
<line x1="874.4" y1="405.55" x2="879.9" y2="405.55" stroke="#222" stroke-width="1.1"/>
<line x1="874.4" y1="424.025" x2="877.4" y2="424.025" stroke="#222" stroke-width="1.1"/>
<line x1="874.4" y1="442.5" x2="879.9" y2="442.5" stroke="#222" stroke-width="1.1"/>
<line x1="874.4" y1="460.975" x2="877.4" y2="460.975" stroke="#222" stroke-width="1.1"/>
<line x1="874.4" y1="479.45" x2="879.9" y2="479.45" stroke="#222" stroke-width="1.1"/>
<line x1="874.4" y1="497.925" x2="877.4" y2="497.925" stroke="#222" stroke-width="1.1"/>
<line x1="874.4" y1="516.4" x2="879.9" y2="516.4" stroke="#222" stroke-width="1.1"/>
<text x="879.5" y="374.3" font-size="16.7">15000</text>
<text x="879.5" y="411.25" font-size="16.7">3461</text>
<text x="879.5" y="448.2" font-size="16.7">798</text>
<text x="879.5" y="485.15" font-size="16.7">184</text>
<text x="879.5" y="522.1" font-size="16.7">42.5</text>
<text x="848.3" y="113.3" font-size="16.6">Ohm-m</text>
<text x="847.6" y="349.8" font-size="16.6">Ohm-m</text>
<rect x="371" y="4" width="238.6" height="73" fill="#fff" stroke="#1a1a1a" stroke-width="1.6"/>
<text x="386.2" y="30.5" font-size="21.1">Possible</text>
<text x="486" y="30.5" font-size="20.7">Hydrocarbon</text>
<text x="386.4" y="54" font-size="21.1">Contaminant</text>
<line x1="436.5" y1="65.2" x2="341.367" y2="175.437" stroke="#000" stroke-width="1.7"/><polygon points="333.2,184.9 336.824,171.517 345.909,179.357" fill="#000"/>
<line x1="483.8" y1="65.2" x2="459.009" y2="172.72" stroke="#000" stroke-width="1.7"/><polygon points="456.2,184.9 453.162,171.372 464.855,174.068" fill="#000"/>
<line x1="554.2" y1="65.2" x2="627.222" y2="214.964" stroke="#000" stroke-width="1.7"/><polygon points="632.7,226.2 621.829,217.594 632.615,212.335" fill="#000"/>
<text x="172" y="408.6" font-size="20.2">Clay</text>
<text x="323" y="432" font-size="20.2">Clay</text>
<text x="435.2" y="411.1" font-size="20.2">Sand</text>
<text x="435.2" y="448.7" font-size="20.2">Sand</text>
<text x="473.3" y="489.3" font-size="20.2">Fine Sand</text>
<text x="221.3" y="496.8" font-size="20.2">Plume</text>
<text x="709.4" y="408" font-size="20.2">Plume</text>
<path d="M443.3,568 V549.3 H588.7 V568 Z" fill="#fff" stroke="none"/>
<path d="M443.3,567.5 V549.3 H588.7 V567.5" fill="none" stroke="#56a5e2" stroke-width="1"/>
<text x="451" y="563.3" font-size="7.8" font-weight="bold" font-family="'Liberation Sans',sans-serif" fill="#222" textLength="37.8" lengthAdjust="spacingAndGlyphs">resistivity</text>
<text x="492" y="563.3" font-size="7.4" font-family="'Liberation Sans',sans-serif" fill="#777" textLength="44" lengthAdjust="spacingAndGlyphs">[,rızı'stıvıtı]</text>
<path d="M541.2,559.6 h1.6 l2.8,-2.4 v8 l-2.8,-2.4 h-1.6 z" fill="#2f8fdd"/>
<rect x="551" y="557.2" width="6.6" height="6.6" fill="none" stroke="#3b96e0" stroke-width="1"/><path d="M552.3,559.4h4M552.3,561.4h2.4" stroke="#3b96e0" stroke-width="0.8"/><path d="M557.6,560.2v4.4M555.4,562.4h4.4" stroke="#4aa33a" stroke-width="1.4"/>
<g stroke="#3b96e0" stroke-width="0.9" fill="none"><path d="M563.5,557.5l1,1M563.2,560h1.6v3.6l1.2,-1M566.5,558.5h4.2M566.2,560.8h4.8M567,563h3.4M568.7,556.6v7.6M567.2,556.8l0.8,1.2M570.2,556.8l-0.8,1.2"/><path d="M573.6,556.8l-1.6,2.4h1.8l-1.8,2.6h2.2M572,563.6l2.4,-0.8M575.6,557.2h4v6.4h-4zM577.6,557.2v6.4M575.6,560.4h4"/><path d="M580.8,558.6l1.2,1.8l-1.2,1.8M582.2,558.6l1.2,1.8l-1.2,1.8" stroke-width="0.6"/></g>
</g>
</svg>
</body></html>
